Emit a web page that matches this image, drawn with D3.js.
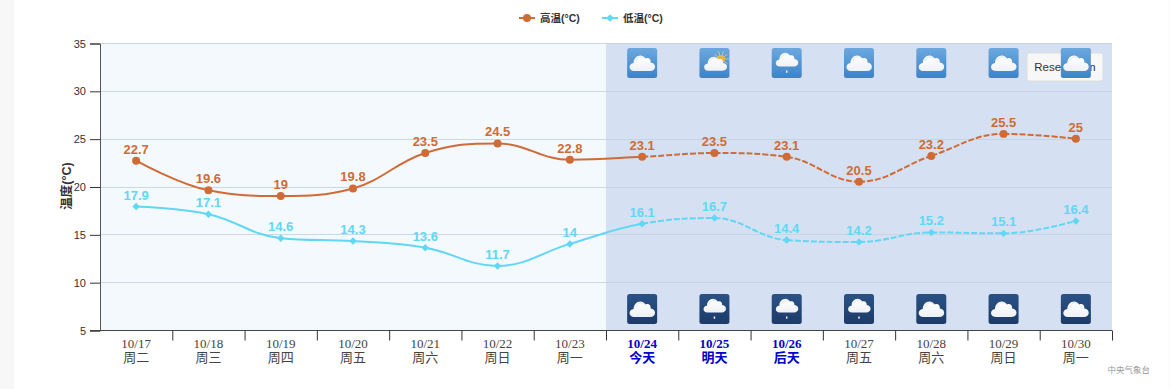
<!DOCTYPE html>
<html lang="en">
<head>
    <meta charset="UTF-8">
    <title>Temperature</title>
    <script src="https://d3js.org/d3.v7.min.js"></script>
    <style>
        html, body { margin: 0; padding: 0; background: #f7f7f7; }
        svg { display: block; position: absolute; left: 14px; top: 0; }
        text { font-family: "Liberation Sans", Arial, "Noto Sans CJK SC", sans-serif; }
    </style>
</head>
<body>
<script>
    const dates = ["10/17","10/18","10/19","10/20","10/21","10/22","10/23","10/24","10/25","10/26","10/27","10/28","10/29","10/30"];
    const days  = ["周二","周三","周四","周五","周六","周日","周一","今天","明天","后天","周五","周六","周日","周一"];
    const high  = [22.7,19.6,19,19.8,23.5,24.5,22.8,23.1,23.5,23.1,20.5,23.2,25.5,25];
    const low   = [17.9,17.1,14.6,14.3,13.6,11.7,14,16.1,16.7,14.4,14.2,15.2,15.1,16.4];
    const yTicks = [5,10,15,20,25,30,35];
    const dayIcons   = ["cloud","sun","drop","cloud","cloud","cloud","cloud"];
    const nightIcons = ["cloud","drop","drop","drop","cloud","cloud","cloud"];
    const forecastFrom = 7;
    const highlighted = ["今天","明天","后天"];

    const width = 1155, height = 389;
    const plotL = 86, plotR = 1098, plotT = 43, plotB = 330;   // svg is shifted 14px

    const svg = d3.select("body").append("svg").attr("width", width).attr("height", height);
    svg.append("rect").attr("width", width).attr("height", height).attr("fill", "#fff");

    const x = d3.scaleBand().domain(d3.range(dates.length)).range([plotL, plotR]);
    const edge = d3.scaleLinear().domain([0, dates.length]).range([plotL, plotR]);
    const y = d3.scaleLinear().domain([5, 35]).range([plotB, plotT]);
    const cx = i => x(i) + x.bandwidth() / 2;

    // gradients for the icons
    const defs = svg.append("defs");
    function grad(id, a, b) {
        const g = defs.append("linearGradient").attr("id", id).attr("x1", 0).attr("y1", 0).attr("x2", 0).attr("y2", 1);
        g.append("stop").attr("offset", 0).attr("stop-color", a);
        g.append("stop").attr("offset", 1).attr("stop-color", b);
    }
    grad("dayBg", "#6ba8de", "#3f83c6");
    grad("nightBg", "#2b5286", "#1c3b68");
    grad("cloudFill", "#ffffff", "#eef1f5");

    // plot bands
    svg.append("rect").attr("x", plotL).attr("y", plotT).attr("width", edge(forecastFrom) - plotL).attr("height", plotB - plotT).attr("fill", "#f4f9fd");
    svg.append("rect").attr("x", edge(forecastFrom)).attr("y", plotT).attr("width", plotR - edge(forecastFrom)).attr("height", plotB - plotT).attr("fill", "#d5e1f2");

    // grid
    svg.append("g").selectAll("line").data(yTicks.slice(1)).join("line")
        .attr("x1", plotL).attr("x2", plotR)
        .attr("y1", d => Math.round(y(d)) + 0.5).attr("y2", d => Math.round(y(d)) + 0.5)
        .attr("stroke", "#c0d0e0").attr("stroke-opacity", 0.8);

    // y axis
    const yAxis = svg.append("g").attr("transform", "translate(" + plotL + ",0.5)")
        .call(d3.axisLeft(y).tickValues(yTicks).tickSize(10).tickPadding(4));
    yAxis.select(".domain").attr("stroke", "#555");
    yAxis.selectAll("line").attr("stroke", "#333");
    yAxis.selectAll("text").attr("font-size", 11).attr("fill", "#333").attr("font-family", '"Liberation Sans"');

    // x axis, ticks sit on the band edges
    const xAxis = svg.append("g").attr("transform", "translate(0," + (plotB + 0.5) + ")")
        .call(d3.axisBottom(edge).tickValues(d3.range(1, dates.length + 1)).tickSize(10).tickFormat(""));
    xAxis.select(".domain").attr("stroke", "#444").attr("d", "M" + (plotL - 10) + ",0H" + plotR);
    xAxis.selectAll("line").attr("stroke", "#333");

    const labels = svg.append("g").selectAll("g").data(dates).join("g")
        .attr("transform", (d, i) => "translate(" + cx(i) + ",0)")
        .attr("text-anchor", "middle")
        .attr("fill", (d, i) => highlighted.includes(days[i]) ? "#0000cc" : "#444")
        .attr("font-weight", (d, i) => highlighted.includes(days[i]) ? "bold" : "normal");
    labels.append("text").attr("y", 347.5).attr("font-size", 13).style("font-family", '"Liberation Serif", serif').text(d => d);
    labels.append("text").attr("y", 362).attr("font-size", 13).style("font-family", '"Liberation Serif", "Noto Sans CJK SC"').text((d, i) => days[i]);

    // axis title
    svg.append("text").attr("transform", "translate(57,186) rotate(-90)")
        .attr("text-anchor", "middle").attr("font-size", 12.5).attr("font-weight", "bold").attr("fill", "#333").text("温度(°C)");

    // icons
    const cloudPath = "M-8,23 C-14,23 -14,15.5 -8.5,15 C-9,9 -1,4 3.5,10.5 C6.5,9 9,11.5 8.5,14.5 C14.5,15 14.5,23 8,23 Z";
    function drawIcon(g, bg, kind) {
        g.append("rect").attr("x", -15).attr("y", 0).attr("width", 30).attr("height", 30).attr("rx", 2.5).attr("fill", "url(#" + bg + ")");
        if (kind == "sun") {
            const s = g.append("g").attr("transform", "translate(6.5,11)");
            s.selectAll("line").data(d3.range(10)).join("line")
                .attr("x2", a => 8 * Math.cos(a * Math.PI / 5)).attr("y2", a => 8 * Math.sin(a * Math.PI / 5))
                .attr("stroke", "#e3cf8e").attr("stroke-width", 0.8);
            s.append("circle").attr("r", 4).attr("fill", "#eab53c");
        }
        const t = kind == "drop" ? "translate(0.2,-1.7) scale(0.88)"
                : kind == "sun" ? "translate(1,2) scale(0.9)" : "translate(0,0)";
        const c = g.append("g").attr("transform", t);
        c.append("path").attr("d", cloudPath).attr("fill", "url(#cloudFill)");
        c.append("path").attr("d", "M-6,13 C-5,9 -1,7.5 2,10").attr("fill", "none").attr("stroke", "#c9d6e6").attr("stroke-width", 0.6);
        if (kind == "drop") {
            g.append("rect").attr("x", -0.7).attr("y", 22.5).attr("width", 1.4).attr("height", 2.2).attr("fill", "#fff");
        }
    }
    dayIcons.forEach((k, i) => {
        drawIcon(svg.append("g").attr("transform", "translate(" + cx(i + forecastFrom) + ",48)"), "dayBg", k);
    });
    nightIcons.forEach((k, i) => {
        drawIcon(svg.append("g").attr("transform", "translate(" + cx(i + forecastFrom) + ",294)"), "nightBg", k);
    });

    // highcharts style spline, one path string per segment
    function splineSegments(vals) {
        const pts = vals.map((v, i) => [cx(i), y(v)]);
        const conts = pts.map((p, i) => {
            if (i == 0 || i == pts.length - 1) return [p, p];
            const a = pts[i - 1], b = pts[i + 1];
            const lx = (1.5 * p[0] + a[0]) / 2.5, rx = (1.5 * p[0] + b[0]) / 2.5;
            let ly = (1.5 * p[1] + a[1]) / 2.5, ry = (1.5 * p[1] + b[1]) / 2.5;
            const c = (ry - ly) * (rx - p[0]) / (rx - lx) + p[1] - ry;
            ly += c; ry += c;
            if (ly > a[1] && ly > p[1]) { ly = Math.max(a[1], p[1]); ry = 2 * p[1] - ly; }
            else if (ly < a[1] && ly < p[1]) { ly = Math.min(a[1], p[1]); ry = 2 * p[1] - ly; }
            if (ry > b[1] && ry > p[1]) { ry = Math.max(b[1], p[1]); ly = 2 * p[1] - ry; }
            else if (ry < b[1] && ry < p[1]) { ry = Math.min(b[1], p[1]); ly = 2 * p[1] - ry; }
            return [[lx, ly], [rx, ry]];
        });
        return d3.range(pts.length - 1).map(i => {
            const p = d3.path();
            p.moveTo(pts[i][0], pts[i][1]);
            p.bezierCurveTo(conts[i][1][0], conts[i][1][1], conts[i + 1][0][0], conts[i + 1][0][1], pts[i + 1][0], pts[i + 1][1]);
            return p.toString();
        });
    }

    const circleMark = d3.symbol().type(d3.symbolCircle).size(50)();
    const diamondMark = d3.symbol().type(d3.symbolSquare).size(28)();

    function drawSeries(vals, color, isDiamond) {
        const segs = splineSegments(vals);
        const g = svg.append("g");
        g.append("path").attr("d", segs.slice(0, forecastFrom).join(""))
            .attr("fill", "none").attr("stroke", color).attr("stroke-width", 2);
        g.append("path").attr("d", segs.slice(forecastFrom).join(""))
            .attr("fill", "none").attr("stroke", color).attr("stroke-width", 2).attr("stroke-dasharray", "6,2");
        g.selectAll("path.m").data(vals).join("path").attr("class", "m")
            .attr("transform", (d, i) => "translate(" + cx(i) + "," + y(d) + ")" + (isDiamond ? " rotate(45)" : ""))
            .attr("d", isDiamond ? diamondMark : circleMark)
            .attr("fill", color);
        g.selectAll("text").data(vals).join("text")
            .attr("x", (d, i) => cx(i)).attr("y", d => y(d) - 7)
            .attr("text-anchor", "middle").attr("font-size", 13).attr("font-weight", "bold")
            .attr("fill", color).text(d => d);
    }
    drawSeries(high, "#d06b35", false);
    drawSeries(low, "#60d8f4", true);

    // legend
    const legend = [
        {name: "高温(°C)", color: "#d06b35", diamond: false, at: 505},
        {name: "低温(°C)", color: "#60d8f4", diamond: true, at: 588}
    ];
    const lg = svg.append("g").selectAll("g").data(legend).join("g")
        .attr("transform", d => "translate(" + d.at + ",18)");
    lg.append("line").attr("x2", 16).attr("stroke", d => d.color).attr("stroke-width", 2);
    lg.append("path").attr("transform", d => "translate(8,0)" + (d.diamond ? " rotate(45)" : ""))
        .attr("d", d => d.diamond ? diamondMark : circleMark).attr("fill", d => d.color);
    lg.append("text").attr("x", 21).attr("y", 4).attr("font-size", 10.5).attr("font-weight", "bold").attr("fill", "#333").text(d => d.name);

    // reset button sits under the last icon
    const reset = svg.append("g").attr("transform", "translate(1013,53)");
    reset.append("rect").attr("width", 76).attr("height", 28).attr("rx", 2).attr("fill", "#f7f7f7").attr("stroke", "#ddd");
    reset.append("text").attr("x", 38).attr("y", 18).attr("text-anchor", "middle").attr("font-size", 11.5).attr("fill", "#333").text("Reset zoom");
    drawIcon(svg.append("g").attr("transform", "translate(" + cx(13) + ",48)"), "dayBg", dayIcons[6]);

    svg.append("text").attr("x", 1136).attr("y", 373).attr("text-anchor", "end").attr("font-size", 8.5).attr("fill", "#999").text("中央气象台");
</script>
</body>
</html>
